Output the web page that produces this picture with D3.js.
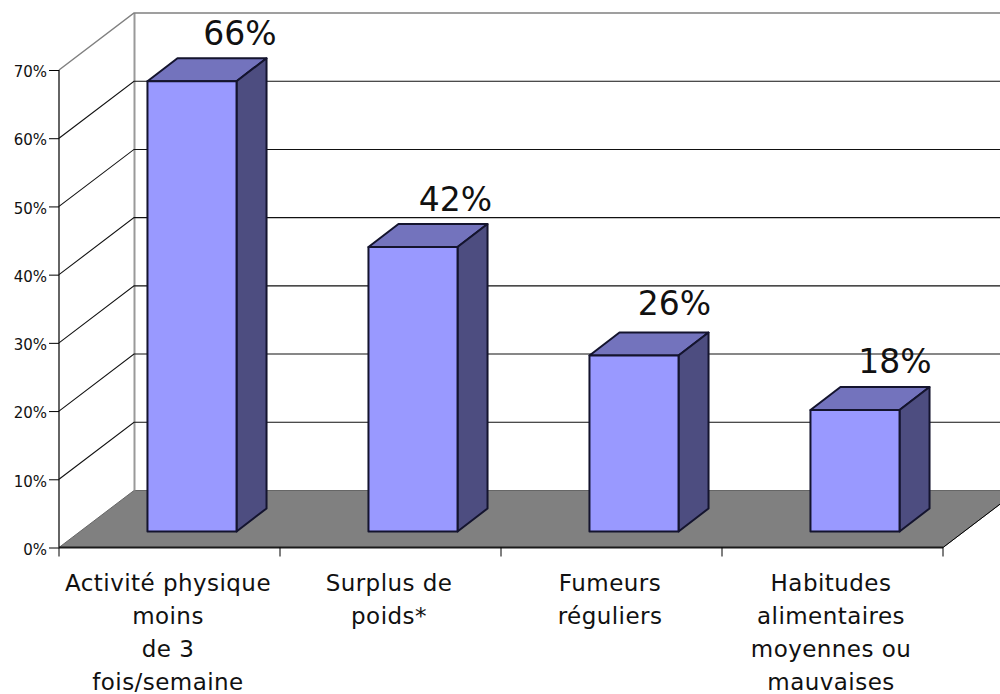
<!DOCTYPE html>
<html><head><meta charset="utf-8">
<script src="https://cdn.jsdelivr.net/npm/d3@7/dist/d3.min.js"></script>
<style>html,body{margin:0;background:#fff}svg{display:block}text{font-family:"DejaVu Sans";fill:#111}</style>
</head><body><svg width="1000" height="694"></svg>
<script>
const categories=["Activité physique","Surplus de","Fumeurs","Habitudes"];
const categoryLines=[["Activité physique","moins","de 3","fois/semaine"],["Surplus de","poids*"],["Fumeurs","réguliers"],["Habitudes","alimentaires","moyennes ou","mauvaises"]];
const values=[66,41.7,25.8,17.8];
const yTicks=[0,10,20,30,40,50,60,70];
const labelNudge=[[48,-36],[42.5,-36],[40.5,-41],[40,-37]];
const svg=d3.select("svg");
const y=d3.scaleLinear().domain([0,70]).range([547.5,70]);
const x=d3.scaleBand().domain(categories).range([59,943]).paddingInner(0.597).paddingOuter(0.2985);
const xt=d3.scalePoint().domain(d3.range(5)).range([59,943]);
const wall={dx:75,dy:-57}, bar={dx:22.5,dy:-16}, depth={dx:30,dy:-23};
const P=(...p)=>"M"+p.map(q=>q.join(",")).join("L")+"Z";
const right=1100;
// floor
svg.append("path").attr("d",P([59,y(0)],[943,y(0)],[943+wall.dx,y(0)+wall.dy],[134,y(0)+wall.dy])).attr("fill","#808080").attr("stroke","#666");
// back wall edge
svg.append("line").attr("x1",134.5).attr("x2",134.5).attr("y1",y(70)+wall.dy).attr("y2",y(0)+wall.dy).attr("stroke","#999").attr("stroke-width",2);
// gridlines
yTicks.slice(1).forEach(t=>{
 const c=t==70?"#808080":"#111";
 svg.append("path").attr("fill","none").attr("stroke",c).attr("stroke-width",t==70?1.5:1.1)
  .attr("d",`M59,${y(t)}L134,${y(t)+wall.dy}L${right},${y(t)+wall.dy}`);
});
// axes
const ax=svg.append("g").attr("transform","translate(59,0)").call(d3.axisLeft(y).tickValues(yTicks).tickSize(10).tickFormat(d=>d+"%"));
ax.select(".domain").attr("stroke","#111").attr("stroke-width",1.3).attr("d",`M0,${y(70)}V${y(0)}`);
ax.selectAll("text").attr("font-size",15).attr("font-family","DejaVu Sans").attr("x",-12).attr("dy","0.45em").attr("fill","#222");
svg.append("line").attr("x1",59).attr("x2",943).attr("y1",y(0)).attr("y2",y(0)).attr("stroke","#1a1a1a").attr("stroke-width",2);
xt.domain().forEach(i=>svg.append("line").attr("x1",xt(i)).attr("x2",xt(i)).attr("y1",y(0)).attr("y2",y(0)+9).attr("stroke","#000"));
svg.append("line").attr("x1",943).attr("x2",943+wall.dx).attr("y1",y(0)).attr("y2",y(0)+wall.dy).attr("stroke","#000");
// bars
categories.forEach((c,i)=>{
 const l=x(c)+bar.dx, r=l+x.bandwidth(), b=y(0)+bar.dy, t=y(values[i])+bar.dy;
 const g=svg.append("g").attr("stroke","#14142e").attr("stroke-width",2).attr("stroke-linejoin","round");
 g.append("path").attr("d",P([l,t],[r,t],[r+depth.dx,t+depth.dy],[l+depth.dx,t+depth.dy])).attr("fill","#7373BD");
 g.append("path").attr("d",P([r,t],[r+depth.dx,t+depth.dy],[r+depth.dx,b+depth.dy],[r,b])).attr("fill","#4D4D80");
 g.append("path").attr("d",P([l,t],[r,t],[r,b],[l,b])).attr("fill","#9999FF");
 svg.append("text").attr("x",(l+r)/2+labelNudge[i][0]).attr("y",t+labelNudge[i][1]).attr("text-anchor","middle").attr("font-size",33).text(d3.format(".0f")(values[i])+"%");
 const tx=svg.append("text").attr("text-anchor","middle").attr("font-size",23).attr("letter-spacing","0.45px");
 categoryLines[i].forEach((s,j)=>tx.append("tspan").attr("x",(xt(i)+xt(i+1))/2-1.5).attr("y",590.5+j*33).text(s));
});
</script></body></html>
